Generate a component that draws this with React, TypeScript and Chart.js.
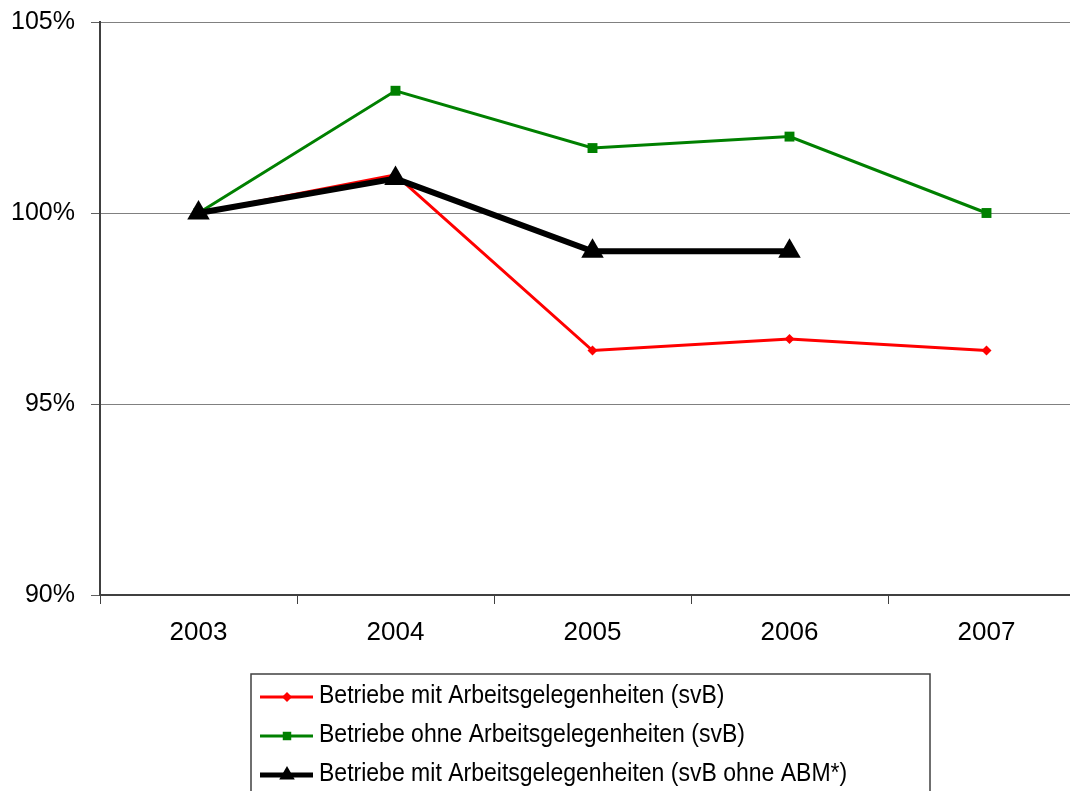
import React, { useEffect, useRef } from "react";
import { Chart, registerables } from "chart.js";

Chart.register(...registerables);

const years = ["2003", "2004", "2005", "2006", "2007"];
const mitSvB = [100, 101.0, 96.4, 96.7, 96.4];
const ohneSvB = [100, 103.2, 101.7, 102.0, 100];
const mitSvBOhneABM = [100, 100.9, 99.0, 99.0, null];
const seriesLabels = [
  "Betriebe mit Arbeitsgelegenheiten (svB)",
  "Betriebe ohne Arbeitsgelegenheiten (svB)",
  "Betriebe mit Arbeitsgelegenheiten (svB ohne ABM*)",
];
const yMin = 90;
const yMax = 105;
const yStep = 5;

const FONT = "'Liberation Sans', Arial, Helvetica, sans-serif";

function drawMarker(ctx: CanvasRenderingContext2D, style: string, x: number, y: number, r: number, color: string) {
  ctx.save();
  ctx.fillStyle = color;
  ctx.beginPath();
  if (style === "rectRot") {
    ctx.moveTo(x, y - r);
    ctx.lineTo(x + r, y);
    ctx.lineTo(x, y + r);
    ctx.lineTo(x - r, y);
  } else if (style === "rect") {
    const s = Math.SQRT1_2 * r;
    ctx.rect(x - s, y - s, 2 * s, 2 * s);
  } else {
    const edge = (3 * r) / Math.sqrt(3);
    const h = (edge * Math.sqrt(3)) / 2;
    ctx.moveTo(x, y - (2 * h) / 3);
    ctx.lineTo(x + edge / 2, y + h / 3);
    ctx.lineTo(x - edge / 2, y + h / 3);
  }
  ctx.closePath();
  ctx.fill();
  ctx.restore();
}

const boxLegend = {
  id: "boxLegend",
  afterDraw(chart: any) {
    const ctx: CanvasRenderingContext2D = chart.ctx;
    ctx.save();
    ctx.strokeStyle = "#404040";
    ctx.lineWidth = 1.5;
    ctx.strokeRect(251, 674, 679, 140);
    const entries = chart.data.datasets;
    const rows = [697, 736, 775];
    entries.forEach((ds: any, i: number) => {
      const y = rows[i];
      ctx.strokeStyle = ds.borderColor;
      ctx.lineWidth = ds.legendLineWidth;
      ctx.beginPath();
      ctx.moveTo(260, y);
      ctx.lineTo(313, y);
      ctx.stroke();
      drawMarker(ctx, ds.pointStyle, 287, y, ds.legendRadius, ds.borderColor);
      ctx.save();
      ctx.translate(319, y + 6);
      ctx.scale(0.885, 1);
      ctx.fillStyle = "#000000";
      ctx.font = `26px ${FONT}`;
      ctx.textBaseline = "alphabetic";
      ctx.textAlign = "left";
      ctx.fillText(ds.label, 0, 0);
      ctx.restore();
    });
    ctx.restore();
  },
};

export default function App() {
  const ref = useRef<HTMLCanvasElement | null>(null);

  useEffect(() => {
    if (!ref.current) return;
    const chart = new Chart(ref.current, {
      type: "line",
      data: {
        labels: years,
        datasets: [
          {
            label: seriesLabels[0],
            data: mitSvB,
            borderColor: "#ff0000",
            backgroundColor: "#ff0000",
            borderWidth: 3,
            pointStyle: "rectRot",
            pointRadius: 5,
            pointHoverRadius: 5,
            pointBorderWidth: 0,
            order: 1,
            legendLineWidth: 3,
            legendRadius: 5,
          } as any,
          {
            label: seriesLabels[1],
            data: ohneSvB,
            borderColor: "#008000",
            backgroundColor: "#008000",
            borderWidth: 3,
            pointStyle: "rect",
            pointRadius: 7,
            pointHoverRadius: 7,
            pointBorderWidth: 0,
            order: 2,
            legendLineWidth: 3,
            legendRadius: 6,
          } as any,
          {
            label: seriesLabels[2],
            data: mitSvBOhneABM,
            borderColor: "#000000",
            backgroundColor: "#000000",
            borderWidth: 6,
            pointStyle: "triangle",
            pointRadius: 13,
            pointHoverRadius: 13,
            pointBorderWidth: 0,
            spanGaps: false,
            order: 0,
            legendLineWidth: 5,
            legendRadius: 9,
          } as any,
        ],
      },
      options: {
        responsive: false,
        animation: false,
        events: [],
        layout: { padding: { left: 0, top: 22, right: 15, bottom: 0 } },
        plugins: {
          legend: { display: false },
          tooltip: { enabled: false },
        },
        elements: { line: { tension: 0 } },
        scales: {
          x: {
            type: "category",
            offset: true,
            grid: {
              offset: true,
              drawOnChartArea: false,
              drawTicks: true,
              tickLength: 9,
              color: "#404040",
              lineWidth: 1,
            },
            border: { display: true, color: "#404040", width: 2 },
            ticks: {
              color: "#000000",
              font: { family: FONT, size: 26 },
              padding: 13,
              maxRotation: 0,
            },
            afterFit(scale: any) {
              scale.height = 196;
              scale.paddingLeft = 0;
              scale.paddingRight = 0;
            },
          },
          y: {
            min: yMin,
            max: yMax,
            grid: {
              color: "#808080",
              lineWidth: 1,
              tickLength: 9,
              tickColor: "#606060",
            },
            border: { display: true, color: "#404040", width: 2 },
            ticks: {
              stepSize: yStep,
              color: "#000000",
              font: { family: FONT, size: 25 },
              padding: 16,
              callback: (v: any) => `${v}%`,
            },
            afterFit(scale: any) {
              scale.width = 100;
              scale.paddingTop = 0;
              scale.paddingBottom = 0;
            },
          },
        },
      },
      plugins: [boxLegend],
    });
    return () => chart.destroy();
  }, []);

  return (
    <div style={{ position: "fixed", left: 0, top: 0, width: 1100, height: 791, background: "#ffffff" }}>
      <canvas ref={ref} width={1100} height={791} style={{ display: "block" }} />
    </div>
  );
}
